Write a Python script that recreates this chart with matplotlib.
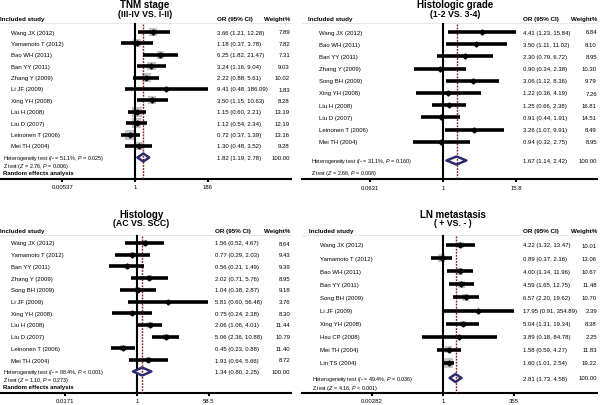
import matplotlib
matplotlib.use('Agg')
import matplotlib.pyplot as plt
from matplotlib.patches import Polygon
from matplotlib.ticker import NullLocator
import numpy as np

plt.rcParams['font.family'] = ['Liberation Sans', 'DejaVu Sans']
plt.rcParams['mathtext.fontset'] = 'custom'
plt.rcParams['mathtext.rm'] = 'Liberation Sans'
plt.rcParams['mathtext.it'] = 'Liberation Sans:italic'
plt.rcParams['mathtext.bf'] = 'Liberation Sans:bold'

# ---------------- Data ----------------
tnm_title = "TNM stage"
tnm_subtitle = "(III-IV VS. I-II)"
tnm_studies = ["Wang JX (2012)", "Yamamoto T (2012)", "Bao WH (2011)", "Ban YY (2011)",
               "Zhang Y (2009)", "Li JF (2009)", "Xing YH (2008)", "Liu H (2008)",
               "Liu D (2007)", "Leinonen T (2006)", "Mei TH (2004)"]
tnm_or = [3.66, 1.18, 6.25, 3.24, 2.22, 9.41, 3.50, 1.15, 1.12, 0.72, 1.30]
tnm_lo = [1.21, 0.37, 1.82, 1.16, 0.88, 0.48, 1.15, 0.60, 0.54, 0.37, 0.48]
tnm_hi = [12.28, 3.78, 21.47, 9.04, 5.61, 186.09, 10.63, 2.21, 2.34, 1.39, 3.52]
tnm_weight = [7.89, 7.82, 7.31, 9.03, 10.02, 1.83, 8.28, 13.19, 12.19, 13.16, 9.28]
tnm_pooled = [1.82, 1.19, 2.78]
tnm_het = r"Heterogeneity test ($I$² = 51.1%, $P$ = 0.025)"
tnm_z = r"Z test ($Z$ = 2.76, $P$ = 0.006)"
tnm_model = "Random effects analysis"
tnm_ticks = [0.00537, 1, 186]
tnm_ticklabels = ["0.00537", "1", "186"]

grade_title = "Histologic grade"
grade_subtitle = "(1-2 VS. 3-4)"
grade_studies = ["Wang JX (2012)", "Bao WH (2011)", "Ban YY (2011)", "Zhang Y (2009)",
                 "Song BH (2009)", "Xing YH (2008)", "Liu H (2008)", "Liu D (2007)",
                 "Leinonen T (2006)", "Mei TH (2004)"]
grade_or = [4.41, 3.50, 2.30, 0.90, 3.06, 1.22, 1.25, 0.91, 3.26, 0.94]
grade_lo = [1.23, 1.11, 0.79, 0.34, 1.12, 0.36, 0.66, 0.44, 1.07, 0.32]
grade_hi = [15.84, 11.02, 6.72, 2.38, 8.36, 4.19, 2.38, 1.91, 9.91, 2.75]
grade_weight = [6.84, 8.10, 8.95, 10.30, 9.79, 7.26, 16.81, 14.51, 8.49, 8.95]
grade_pooled = [1.67, 1.14, 2.42]
grade_het = r"Heterogeneity test ($I$² = 31.1%, $P$ = 0.160)"
grade_z = r"Z test ($Z$ = 2.66, $P$ = 0.008)"
grade_model = ""
grade_ticks = [0.0631, 1, 15.8]
grade_ticklabels = ["0.0631", "1", "15.8"]

hist_title = "Histology"
hist_subtitle = "(AC VS. SCC)"
hist_studies = ["Wang JX (2012)", "Yamamoto T (2012)", "Ban YY (2011)", "Zhang Y (2009)",
                "Song BH (2009)", "Li JF (2009)", "Xing YH (2008)", "Liu H (2008)",
                "Liu D (2007)", "Leinonen T (2006)", "Mei TH (2004)"]
hist_or = [1.56, 0.77, 0.56, 2.02, 1.04, 5.81, 0.75, 2.06, 5.06, 0.45, 1.91]
hist_lo = [0.52, 0.29, 0.21, 0.71, 0.38, 0.60, 0.24, 1.06, 2.36, 0.23, 0.64]
hist_hi = [4.67, 2.03, 1.49, 5.76, 2.87, 56.48, 2.38, 4.01, 10.88, 0.88, 5.66]
hist_weight = [8.64, 9.43, 9.39, 8.95, 9.18, 3.76, 8.30, 11.44, 10.79, 11.40, 8.72]
hist_pooled = [1.34, 0.80, 2.25]
hist_het = r"Heterogeneity test ($I$² = 88.4%, $P$ < 0.001)"
hist_z = r"Z test ($Z$ = 1.10, $P$ = 0.273)"
hist_model = "Random effects analysis"
hist_ticks = [0.0171, 1, 58.5]
hist_ticklabels = ["0.0171", "1", "58.5"]

ln_title = "LN metastasis"
ln_subtitle = "( + VS. - )"
ln_studies = ["Wang JX (2012)", "Yamamoto T (2012)", "Bao WH (2011)", "Ban YY (2011)",
              "Song BH (2009)", "Li JF (2009)", "Xing YH (2008)", "Hsu CP (2008)",
              "Mei TH (2004)", "Lin TS (2004)"]
ln_or = [4.22, 0.89, 4.00, 4.59, 6.57, 17.95, 5.04, 3.89, 1.58, 1.60]
ln_lo = [1.32, 0.37, 1.34, 1.65, 2.20, 0.91, 1.31, 0.18, 0.59, 1.01]
ln_hi = [13.47, 2.16, 11.96, 12.75, 19.62, 354.89, 19.34, 84.78, 4.27, 2.54]
ln_weight = [10.01, 13.06, 10.67, 11.48, 10.70, 2.39, 8.38, 2.25, 11.83, 19.22]
ln_pooled = [2.81, 1.73, 4.58]
ln_het = r"Heterogeneity test ($I$² = 49.4%, $P$ = 0.036)"
ln_z = r"Z test ($Z$ = 4.16, $P$ < 0.001)"
ln_model = ""
ln_ticks = [0.00282, 1, 355]
ln_ticklabels = ["0.00282", "1", "355"]

# ---------------- Layout (pixel-based) ----------------
W, H = 600, 406
fig = plt.figure(figsize=(W / 100, H / 100), dpi=100)

FS = 4.3
FS_STAT = 3.9
DIAMOND_COLOR = '#2d2b6b'
DASH_COLOR = '#8b1a1a'
BOX_COLOR = '#c4c4c4'


def panel(d, L):
    x0, x1, top, axy = L['x0'], L['x1'], L['top'], L['axis_y']
    ax = fig.add_axes([x0 / W, 1 - axy / H, (x1 - x0) / W, (axy - top) / H])
    ax.set_xscale('log')
    ax.set_xlim(10 ** ((x0 - L['x_one']) / L['ppd']), 10 ** ((x1 - L['x_one']) / L['ppd']))
    ax.set_ylim(axy, top)
    for s in ['top', 'left', 'right']:
        ax.spines[s].set_visible(False)
    ax.spines['bottom'].set_linewidth(1.5)
    ax.set_yticks([])
    ax.set_xticks(d['ticks'])
    ax.set_xticklabels(d['ticklabels'])
    ax.xaxis.set_minor_locator(NullLocator())
    ax.tick_params(axis='x', length=2.5, width=1.5, labelsize=FS, pad=1.8)
    ax.patch.set_visible(False)

    tr = ax.get_yaxis_transform()
    xf = lambda px: (px - x0) / (x1 - x0)

    # titles & header
    ax.text(xf(L['title_cx']), L['title_y'], d['title'], transform=tr, ha='center',
            va='center', fontsize=7, fontweight='bold')
    ax.text(xf(L['title_cx']), L['sub_y'], d['subtitle'], transform=tr, ha='center',
            va='center', fontsize=6.3, fontweight='bold')
    hy = L['header_y']
    ax.text(xf(L['header_x']), hy, "Included study", transform=tr, ha='left', va='center',
            fontsize=4.5, fontweight='bold')
    ax.text(xf(L['or_x']), hy, "OR (95% CI)", transform=tr, ha='left', va='center',
            fontsize=4.5, fontweight='bold')
    ax.text(xf(L['wt_x']), hy, "Weight%", transform=tr, ha='right', va='center',
            fontsize=4.5, fontweight='bold')
    ax.plot([0, 1], [hy + 4, hy + 4], transform=tr, color='#dddddd', lw=0.5, clip_on=False)

    n = len(d['studies'])
    ys = L['row0'] + L['dy'] * np.arange(n)
    vtop = hy + 5

    # reference lines
    ax.plot([1, 1], [vtop, axy], color='black', lw=1.5, zorder=3, clip_on=False)
    p, plo, phi = d['pooled']
    ax.plot([p, p], [vtop, axy], color=DASH_COLOR, lw=1.0, ls=(0, (1.3, 0.9)), zorder=4,
            clip_on=False)

    # study marks
    w = np.array(d['weight'])
    if L['box_k'] > 0:
        sizes = (L['box_k'] * np.sqrt(w) * 0.72) ** 2
        ax.scatter(d['or'], ys, s=sizes, marker='s', color=BOX_COLOR, zorder=2, linewidths=0)
    ax.hlines(ys, d['lo'], d['hi'], color='black', lw=2.6, zorder=5)
    ax.plot(d['or'], ys, ls='none', marker='D', ms=2.6, color='black', zorder=6)

    for i in range(n):
        ax.text(xf(L['name_x']), ys[i], d['studies'][i], transform=tr, ha='left', va='center',
                fontsize=FS)
        ax.text(xf(L['or_x']), ys[i], "%.2f (%.2f, %.2f)" % (d['or'][i], d['lo'][i], d['hi'][i]),
                transform=tr, ha='left', va='center', fontsize=FS)
        ax.text(xf(L['wt_x']), ys[i], "%.2f" % d['weight'][i], transform=tr, ha='right',
                va='center', fontsize=FS)

    # pooled diamond
    py = L['het_y']
    hh = 4.0
    verts = [(plo, py), (p, py - hh), (phi, py), (p, py + hh)]
    ax.add_patch(Polygon(verts, closed=True, facecolor='white', edgecolor='none', zorder=3.5))
    ax.add_patch(Polygon(verts, closed=True, fill=False, edgecolor=DIAMOND_COLOR, lw=1.8,
                         joinstyle='round', zorder=7))
    ax.text(xf(L['or_x']), py, "%.2f (%.2f, %.2f)" % (p, plo, phi), transform=tr, ha='left',
            va='center', fontsize=FS)
    ax.text(xf(L['wt_x']), py, "100.00", transform=tr, ha='right', va='center', fontsize=FS)

    ax.text(xf(L['stat_x']), L['het_y'], d['het'], transform=tr, ha='left', va='center',
            fontsize=FS_STAT)
    ax.text(xf(L['stat_x']), L['z_y'], d['z'], transform=tr, ha='left', va='center',
            fontsize=FS_STAT)
    if d['model']:
        ax.text(xf(L['stat_x']), L['model_y'], d['model'], transform=tr, ha='left',
                va='center', fontsize=4.3, fontweight='bold')
    return ax


panels = [
    (dict(title=tnm_title, subtitle=tnm_subtitle, studies=tnm_studies),
     tnm_or, tnm_lo, tnm_hi, tnm_weight, tnm_pooled, tnm_het, tnm_z, tnm_model, tnm_ticks,
     tnm_ticklabels,
     dict(x0=0, x1=291, top=0, axis_y=179.5, x_one=135, ppd=32.0, title_cx=145, title_y=5.5,
          sub_y=14.5, header_y=20, header_x=0.5, name_x=11, stat_x=3, or_x=217, wt_x=290,
          row0=33, dy=11.4, het_y=158.5, z_y=166.5, model_y=174, box_k=2.8)),
    (dict(title=grade_title, subtitle=grade_subtitle, studies=grade_studies),
     grade_or, grade_lo, grade_hi, grade_weight, grade_pooled, grade_het, grade_z, grade_model,
     grade_ticks, grade_ticklabels,
     dict(x0=302, x1=597, top=0, axis_y=180, x_one=443, ppd=61.0, title_cx=455, title_y=5.5,
          sub_y=14.5, header_y=20, header_x=308, name_x=319, stat_x=311, or_x=523, wt_x=597,
          row0=33, dy=12.2, het_y=161.5, z_y=174, model_y=0, box_k=0)),
    (dict(title=hist_title, subtitle=hist_subtitle, studies=hist_studies),
     hist_or, hist_lo, hist_hi, hist_weight, hist_pooled, hist_het, hist_z, hist_model,
     hist_ticks, hist_ticklabels,
     dict(x0=0, x1=291, top=200, axis_y=393.5, x_one=137, ppd=40.7, title_cx=141, title_y=215,
          sub_y=224, header_y=232, header_x=0.5, name_x=11, stat_x=3, or_x=215, wt_x=290.5,
          row0=244, dy=11.7, het_y=372.5, z_y=380.5, model_y=388, box_k=1.8)),
    (dict(title=ln_title, subtitle=ln_subtitle, studies=ln_studies),
     ln_or, ln_lo, ln_hi, ln_weight, ln_pooled, ln_het, ln_z, ln_model, ln_ticks,
     ln_ticklabels,
     dict(x0=302, x1=597, top=200, axis_y=393.5, x_one=443, ppd=27.9, title_cx=453,
          title_y=215, sub_y=224, header_y=232, header_x=309, name_x=320, stat_x=312,
          or_x=523, wt_x=597, row0=246, dy=13.1, het_y=379, z_y=389, model_y=0, box_k=2.1)),
]

for base, o, lo, hi, wt, pooled, het, z, model, ticks, tlabels, L in panels:
    d = dict(title=base['title'], subtitle=base['subtitle'], studies=base['studies'], lo=lo,
             hi=hi, weight=wt, pooled=pooled, het=het, z=z, model=model, ticks=ticks,
             ticklabels=tlabels)
    d['or'] = o
    panel(d, L)

fig.savefig('out.png', dpi=100)
